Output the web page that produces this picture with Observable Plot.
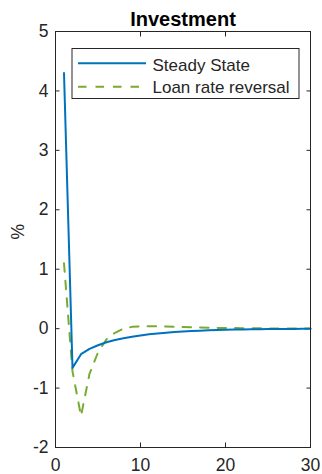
<!DOCTYPE html>
<html>
<head>
<meta charset="utf-8">
<script src="https://cdn.jsdelivr.net/npm/d3@7"></script>
<script src="https://cdn.jsdelivr.net/npm/@observablehq/plot@0.6"></script>
<style>
  html, body { margin: 0; padding: 0; background: #fff; overflow: hidden; }
  #chart { width: 322px; height: 474px; overflow: visible; }
  #chart svg { display: block; max-width: none !important; }
</style>
</head>
<body>
<div id="chart"></div>
<script>
const titleText = "Investment";
const yLabel = "%";
const seriesNames = ["Steady State", "Loan rate reversal"];
const periods = [1,2,3,4,5,6,7,8,9,10,11,12,13,14,15,16,17,18,19,20,21,22,23,24,25,26,27,28,29,30];
const steadyState = [4.30,-0.66,-0.43,-0.34,-0.28,-0.23,-0.19,-0.16,-0.135,-0.115,-0.095,-0.08,-0.068,-0.057,-0.048,-0.04,-0.034,-0.028,-0.023,-0.019,-0.016,-0.013,-0.011,-0.009,-0.007,-0.006,-0.005,-0.004,-0.003,-0.003];
const loanRateReversal = [1.10,-0.72,-1.47,-0.76,-0.40,-0.18,-0.07,0.0,0.03,0.04,0.042,0.04,0.036,0.031,0.027,0.023,0.019,0.016,0.013,0.011,0.009,0.007,0.006,0.005,0.004,0.003,0.003,0.002,0.002,0.001];
const xTicks = [0,10,20,30];
const yTicks = [-2,-1,0,1,2,3,4,5];
const colors = ["#0072BD", "#77AC30"];

const rows = periods.map((p, i) => ({t: p, v: steadyState[i], s: seriesNames[0]}));
const rows2 = periods.map((p, i) => ({t: p, v: loanRateReversal[i], s: seriesNames[1]}));

const axisColor = "#262626";
const font = "'Liberation Sans', Arial, sans-serif";

const plot = Plot.plot({
  width: 322,
  height: 474,
  marginLeft: 55,
  marginRight: 12,
  marginTop: 31,
  marginBottom: 27,
  style: {fontFamily: font, fontSize: "17px", color: axisColor, background: "#fff", overflow: "visible"},
  x: {domain: [0, 30], axis: null},
  y: {domain: [-2, 5], axis: null},
  marks: [
    Plot.axisX(xTicks, {anchor: "bottom", tickSize: 0, tickPadding: 11, tickFormat: d => String(d), fontSize: 17.5, textAnchor: "middle", label: null}),
    Plot.axisY(yTicks, {anchor: "left", tickSize: 0, tickPadding: 7, tickFormat: d => String(d), fontSize: 17.5, label: null}),
    Plot.axisX(xTicks, {anchor: "bottom", tickSize: -4.5, text: null, label: null, stroke: axisColor}),
    Plot.axisX(xTicks, {anchor: "top", tickSize: -4.5, text: null, label: null, stroke: axisColor}),
    Plot.axisY(yTicks, {anchor: "left", tickSize: -4.5, text: null, label: null, stroke: axisColor}),
    Plot.axisY(yTicks, {anchor: "right", tickSize: -4.5, text: null, label: null, stroke: axisColor}),
    Plot.line(rows2, {x: "t", y: "v", stroke: colors[1], strokeWidth: 2, strokeDasharray: "8.5,9"}),
    Plot.line(rows, {x: "t", y: "v", stroke: colors[0], strokeWidth: 2}),
    Plot.frame({stroke: axisColor, strokeWidth: 1}),
    Plot.text([titleText], {frameAnchor: "top", lineAnchor: "bottom", dy: -6, fontWeight: "bold", fontSize: 20, fill: "#000", letterSpacing: "1.3px"}),
    Plot.text([yLabel], {frameAnchor: "left", dx: -37, rotate: -90, fontSize: 17.5, fill: axisColor})
  ]
});

document.getElementById("chart").appendChild(plot);

// Legend inside the axes (MATLAB style)
const svg = d3.select(plot);
const lg = svg.append("g").attr("font-family", font).attr("font-size", 17).attr("text-anchor", "start");
lg.append("rect").attr("x", 72).attr("y", 48.5).attr("width", 227).attr("height", 50)
  .attr("fill", "#fff").attr("stroke", axisColor).attr("stroke-width", 1);
const legendRows = [
  {name: seriesNames[0], color: colors[0], dash: null, ly: 63.3, ty: 71},
  {name: seriesNames[1], color: colors[1], dash: "8.5,9", ly: 86.7, ty: 92.5}
];
legendRows.forEach(r => {
  const ln = lg.append("line").attr("x1", 78).attr("x2", 146).attr("y1", r.ly).attr("y2", r.ly)
    .attr("stroke", r.color).attr("stroke-width", 2);
  if (r.dash) ln.attr("stroke-dasharray", r.dash);
  lg.append("text").attr("x", 152.5).attr("y", r.ty).attr("text-anchor", "start").attr("fill", axisColor).text(r.name);
});
</script>
</body>
</html>
